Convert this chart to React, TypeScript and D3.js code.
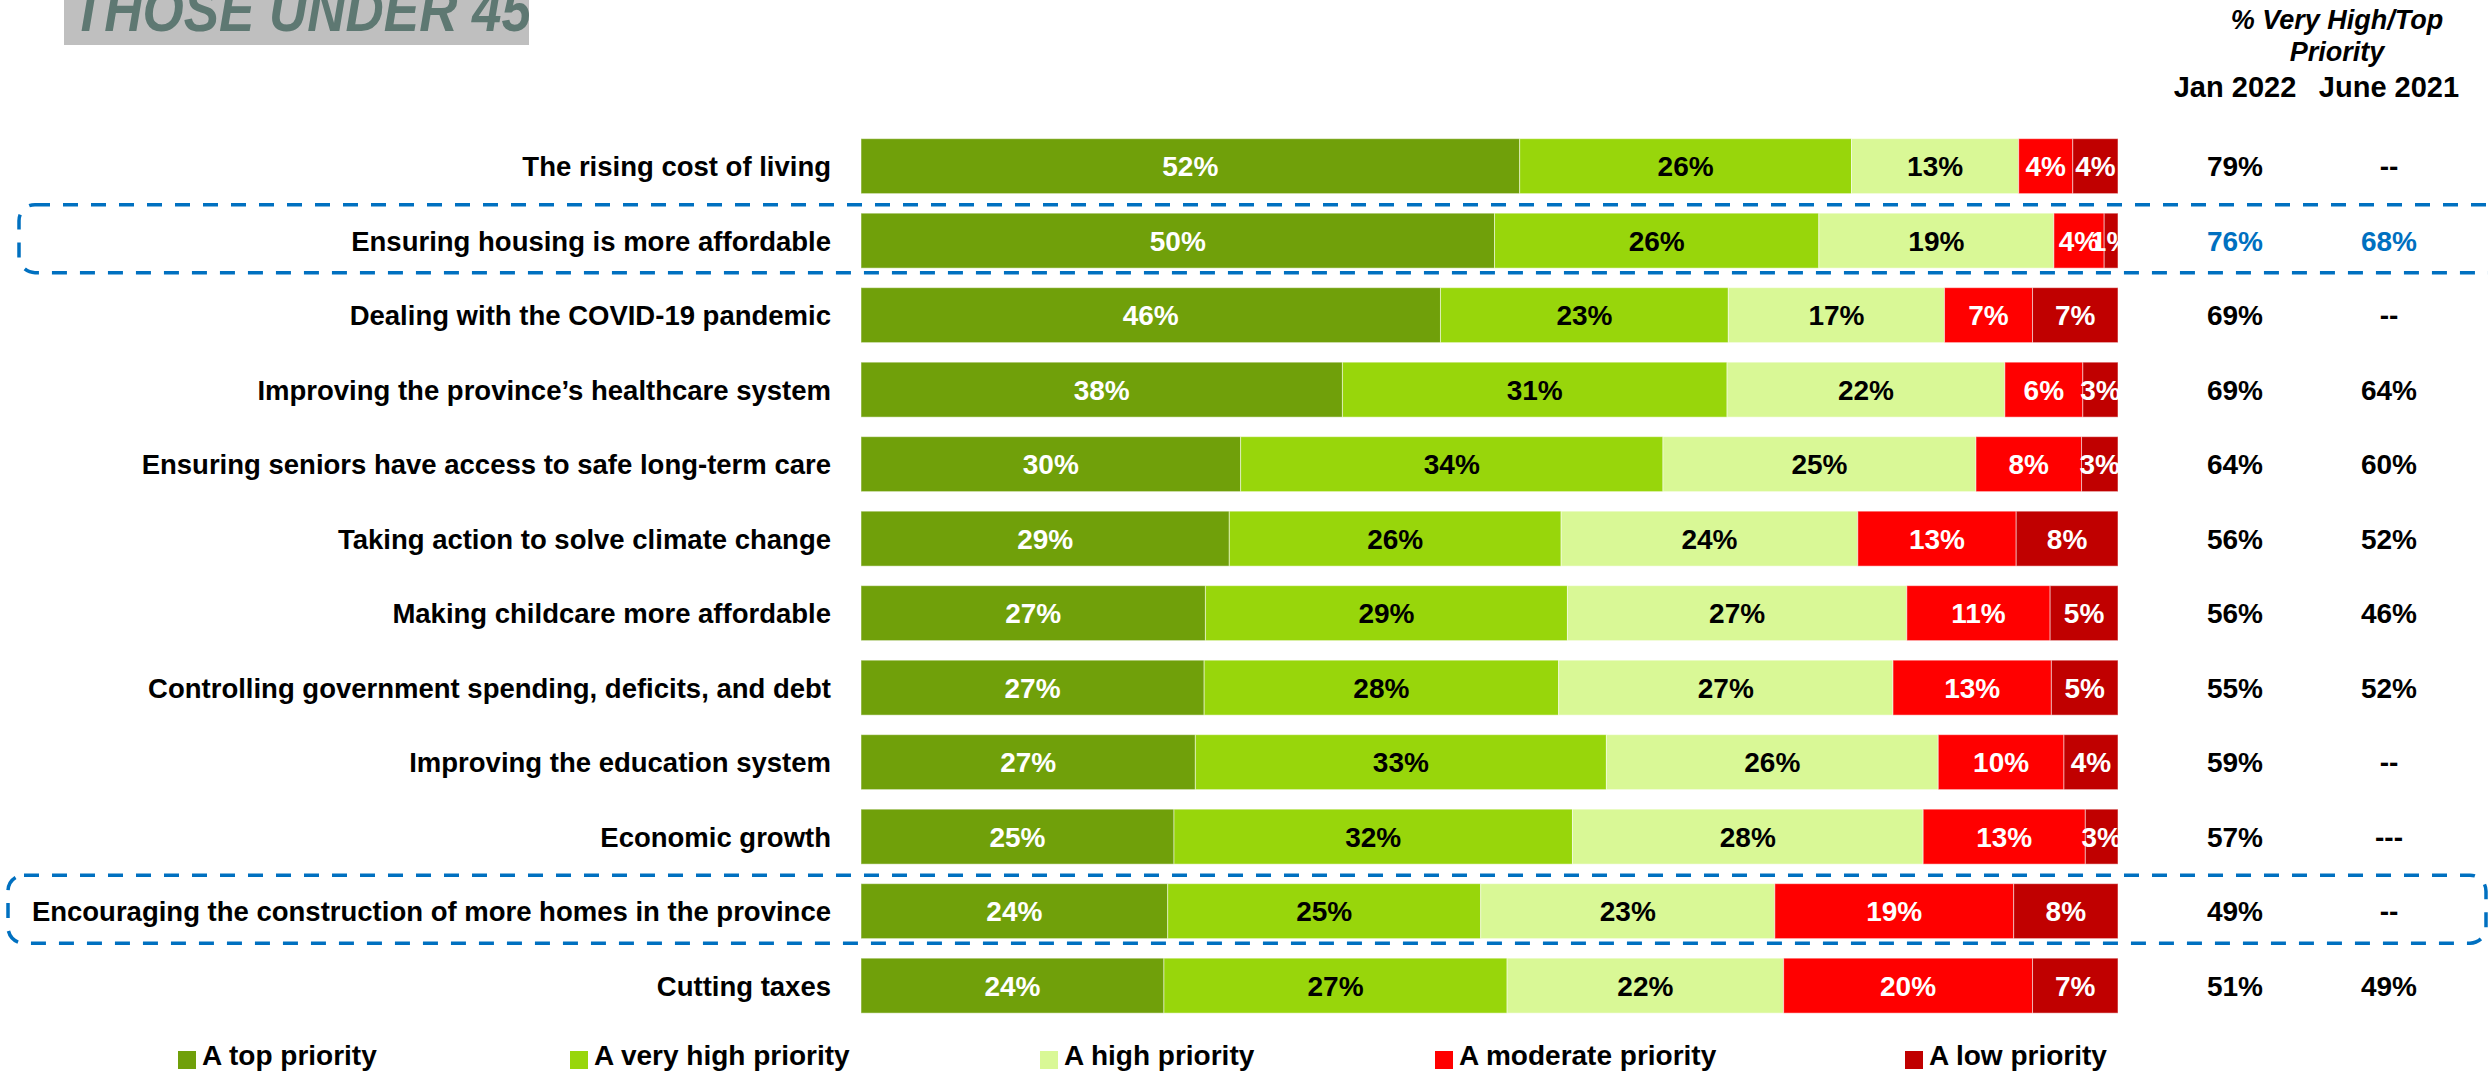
import React from "react";
import * as d3 from "d3";

const categories = [
  "The rising cost of living",
  "Ensuring housing is more affordable",
  "Dealing with the COVID-19 pandemic",
  "Improving the province\u2019s healthcare system",
  "Ensuring seniors have access to safe long-term care",
  "Taking action to solve climate change",
  "Making childcare more affordable",
  "Controlling government spending, deficits, and debt",
  "Improving the education system",
  "Economic growth",
  "Encouraging the construction of more homes in the province",
  "Cutting taxes",
];

const seriesNames = [
  "A top priority",
  "A very high priority",
  "A high priority",
  "A moderate priority",
  "A low priority",
];

const topPriority = [52.4, 50.4, 46.1, 38.3, 30.2, 29.3, 27.4, 27.3, 26.6, 24.9, 24.4, 24.1];
const veryHighPriority = [26.4, 25.8, 22.9, 30.6, 33.6, 26.4, 28.8, 28.2, 32.7, 31.7, 24.9, 27.3];
const highPriority = [13.3, 18.7, 17.2, 22.1, 24.9, 23.6, 27.0, 26.6, 26.4, 27.9, 23.4, 22.0];
const moderatePriority = [4.3, 4.0, 7.0, 6.2, 8.4, 12.6, 11.4, 12.6, 10.0, 12.9, 19.0, 19.8];
const lowPriority = [3.6, 1.1, 6.8, 2.8, 2.9, 8.1, 5.4, 5.3, 4.3, 2.6, 8.3, 6.8];

const jan2022 = ["79%", "76%", "69%", "69%", "64%", "56%", "56%", "55%", "59%", "57%", "49%", "51%"];
const june2021 = ["--", "68%", "--", "64%", "60%", "52%", "46%", "52%", "--", "---", "--", "49%"];

const highlighted = [
  "Ensuring housing is more affordable",
  "Encouraging the construction of more homes in the province",
];

const colors = ["#70A00A", "#98D60B", "#D9F896", "#FF0000", "#C00000"];
const labelColors = ["#FFFFFF", "#000000", "#000000", "#FFFFFF", "#FFFFFF"];

const FONT = "'Liberation Sans', Arial, sans-serif";
const W = 2488;
const H = 1074;

export default function App() {
  const series = [topPriority, veryHighPriority, highPriority, moderatePriority, lowPriority];
  const rows = categories.map((c, i) => {
    const r: any = { category: c };
    seriesNames.forEach((s, k) => (r[s] = series[k][i]));
    return r;
  });
  const stacked = d3.stack<any>().keys(seriesNames)(rows);

  const x = d3.scaleLinear().domain([0, 100]).range([861, 2118]);
  const y = d3
    .scaleBand<string>()
    .domain(categories)
    .range([128.9, 128.9 + 894])
    .paddingInner(0.262)
    .paddingOuter(0.131);
  const bw = y.bandwidth();
  const cy = (c: string) => (y(c) as number) + bw / 2;

  const colJan = 2235;
  const colJune = 2389;
  const legendX = [178, 570, 1040, 1435, 1905];

  return (
    <svg
      width={W}
      height={H}
      style={{ position: "absolute", left: 0, top: 0, background: "#fff" }}
      fontFamily={FONT}
    >
      <defs>
        <clipPath id="barclip">
          <rect x={x(0)} y={0} width={x(100) - x(0)} height={H} />
        </clipPath>
      </defs>
      {/* Title */}
      <rect x={64} y={0} width={465} height={45} fill="#BFBFBF" />
      <text
        x={72}
        y={31}
        fontSize={62}
        fontWeight="bold"
        fontStyle="italic"
        fill="#5E7872"
        textLength={459}
        lengthAdjust="spacingAndGlyphs"
      >
        THOSE UNDER 45
      </text>

      {/* Header */}
      <g fontWeight="bold" textAnchor="middle" fill="#000">
        <text x={2337} y={29} fontSize={27} fontStyle="italic">
          % Very High/Top
        </text>
        <text x={2337} y={61} fontSize={27} fontStyle="italic">
          Priority
        </text>
        <text x={colJan} y={97} fontSize={29}>
          Jan 2022
        </text>
        <text x={colJune} y={97} fontSize={29}>
          June 2021
        </text>
      </g>

      {/* Highlight boxes */}
      {highlighted.map((c, i) => {
        const yc = cy(c);
        const x0 = i === 0 ? 19 : 8;
        const x1 = i === 0 ? 2530 : 2486;
        return (
          <rect
            key={c}
            x={x0}
            y={yc - 36}
            width={x1 - x0}
            height={68}
            rx={16}
            ry={16}
            fill="none"
            stroke="#0070C0"
            strokeWidth={3.5}
            strokeDasharray="15 13"
          />
        );
      })}

      {/* Category labels */}
      <g fontSize={27.5} fontWeight="bold" textAnchor="end" fill="#000">
        {categories.map((c) => (
          <text key={c} x={831} y={cy(c)} dy="0.36em">
            {c}
          </text>
        ))}
      </g>

      {/* Bars */}
      {stacked.map((s, k) => (
        <g key={s.key} fill={colors[k]}>
          {s.map((d) => (
            <rect
              key={d.data.category}
              x={x(d[0])}
              y={y(d.data.category)}
              width={x(d[1]) - x(d[0])}
              height={bw}
              stroke="#ffffff"
              strokeOpacity={0.5}
              strokeWidth={1}
            />
          ))}
        </g>
      ))}

      {/* Bar labels */}
      <g clipPath="url(#barclip)" fontSize={28} fontWeight="bold" textAnchor="middle">
        {stacked.map((s, k) =>
          s.map((d) => (
            <text
              key={s.key + d.data.category}
              x={(x(d[0]) + x(d[1])) / 2}
              y={cy(d.data.category)}
              dy="0.36em"
              fill={labelColors[k]}
            >
              {Math.round(d[1] - d[0]) + "%"}
            </text>
          ))
        )}
      </g>

      {/* Right columns */}
      <g fontSize={28} fontWeight="bold" textAnchor="middle">
        {categories.map((c, i) => {
          const fill = highlighted[0] === c ? "#0070C0" : "#000";
          return (
            <g key={c} fill={fill}>
              <text x={colJan} y={cy(c)} dy="0.36em">
                {jan2022[i]}
              </text>
              <text x={colJune} y={cy(c)} dy="0.36em">
                {june2021[i]}
              </text>
            </g>
          );
        })}
      </g>

      {/* Legend */}
      <g fontSize={28} fontWeight="bold" fill="#000">
        {seriesNames.map((s, k) => (
          <g key={s} transform={`translate(${legendX[k]},1051)`}>
            <rect x={0} y={0} width={18} height={18} fill={colors[k]} />
            <text x={24} y={14} fill="#000">
              {s}
            </text>
          </g>
        ))}
      </g>
    </svg>
  );
}
